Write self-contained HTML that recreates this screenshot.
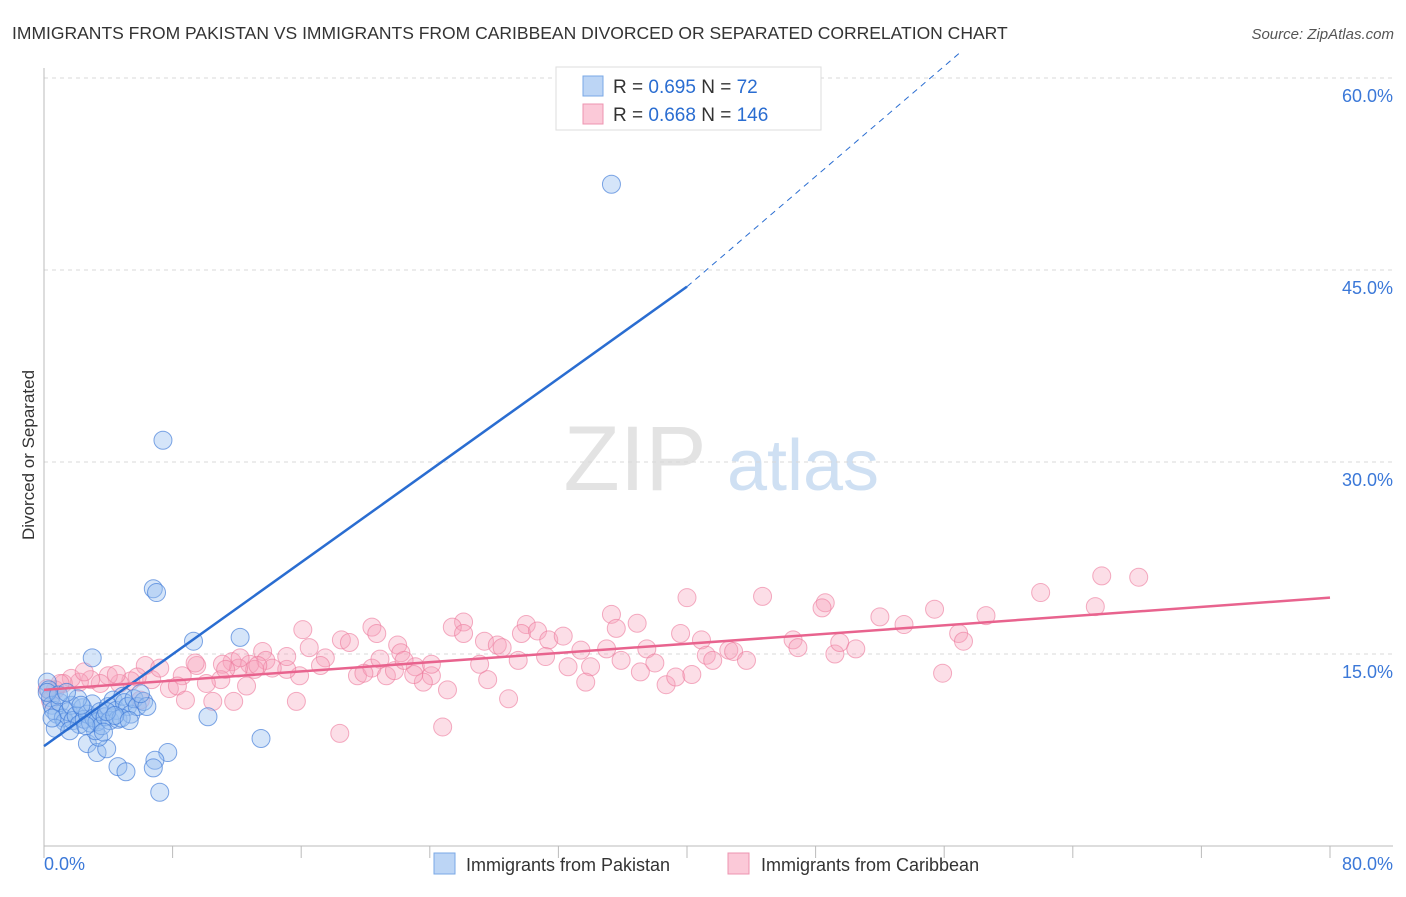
<!DOCTYPE html>
<html><head><meta charset="utf-8"><style>
body{margin:0;background:#fff;font-family:"Liberation Sans",sans-serif;}
svg text{font-family:"Liberation Sans",sans-serif;}
</style></head><body>
<svg id="chart" width="1406" height="892">
<text x="12" y="39" font-size="17.5" fill="#333">IMMIGRANTS FROM PAKISTAN VS IMMIGRANTS FROM CARIBBEAN DIVORCED OR SEPARATED CORRELATION CHART</text>
<text x="1394" y="39" font-size="15" fill="#555" font-style="italic" text-anchor="end">Source: ZipAtlas.com</text>
<g><text x="635" y="490" font-size="92" fill="#e3e3e3" font-family="Liberation Serif" text-anchor="middle">ZIP</text><text x="803" y="490" font-size="72" fill="#cfe0f3" text-anchor="middle">atlas</text></g>
<g id="grid"></g><g id="axes"></g><g id="pts"></g><g id="lines"></g>
<text transform="translate(34,455) rotate(-90)" font-size="17" fill="#333" text-anchor="middle">Divorced or Separated</text>
<g>
<rect x="556" y="67" width="265" height="63" fill="#fff" stroke="#ddd"/>
<rect x="583" y="76" width="20" height="20" fill="#bcd5f5" stroke="#7aa8e6"/>
<rect x="583" y="104" width="20" height="20" fill="#fbc9d8" stroke="#ee94b0"/>
<text x="613" y="93" font-size="19" fill="#333">R = <tspan fill="#2a6dd1">0.695</tspan>   N = <tspan fill="#2a6dd1">  72</tspan></text>
<text x="613" y="121" font-size="19" fill="#333">R = <tspan fill="#2a6dd1">0.668</tspan>   N = <tspan fill="#2a6dd1">146</tspan></text>
</g>
<g>
<rect x="434" y="853" width="21" height="21" fill="#bcd5f5" stroke="#7aa8e6"/>
<text x="466" y="871" font-size="18" fill="#333">Immigrants from Pakistan</text>
<rect x="728" y="853" width="21" height="21" fill="#fbc9d8" stroke="#ee94b0"/>
<text x="761" y="871" font-size="18" fill="#333">Immigrants from Caribbean</text>
</g>
</svg>
<script>
const yTicks=[15,30,45,60];
const yTickLabels=["15.0%","30.0%","45.0%","60.0%"];
const xTickValues=[0,8,16,24,32,40,48,56,64,72,80];
const xEndLabels=["0.0%","80.0%"];
const blueTrend=[7.8,43.7,62.0]; // y at x=0, x=40, x=57
const pinkTrend=[12.2,19.4]; // y at x=0, x=80
const blueX=[35.3,7.4,6.8,7.0,9.3,12.2,3.0,10.2,13.5,7.7,6.9,6.8,7.2,4.6,5.1,2.7,3.3,3.9,3.4,3.2,0.2,0.3,0.4,0.5,0.6,0.8,1.0,1.2,1.3,1.5,1.7,1.8,2.0,2.2,2.4,2.5,2.7,2.9,3.0,3.1,3.3,3.5,3.6,3.8,4.0,4.1,4.3,4.5,4.6,4.9,5.0,5.2,5.4,5.6,5.8,6.2,6.4,0.7,1.6,2.6,3.7,4.8,0.2,0.9,2.1,1.4,0.5,2.3,3.9,4.4,5.3,6.0];
const blueY=[51.7,31.7,20.1,19.8,16.0,16.3,14.7,10.1,8.4,7.3,6.7,6.1,4.2,6.2,5.8,8.0,7.3,7.6,8.5,9.0,12.8,12.2,11.6,11.0,10.6,10.3,11.2,10.0,9.7,10.5,11.0,9.8,10.2,9.5,10.8,9.9,10.3,9.6,11.1,10.0,9.7,10.5,9.4,10.1,10.9,9.8,11.4,10.6,9.9,11.7,11.2,10.9,10.3,11.5,10.9,11.3,10.9,9.2,9.0,9.4,8.9,10.0,12.0,11.8,11.5,12.0,10.0,11.0,10.5,10.2,9.8,11.9];
const pinkX=[65.8,68.1,62.0,65.4,55.4,44.7,40.0,48.6,48.4,52.0,58.6,53.5,56.9,57.2,39.6,40.9,41.2,41.6,42.6,42.9,43.7,46.6,46.9,49.2,49.5,50.5,55.9,35.3,35.6,36.9,30.0,26.1,25.4,26.1,27.4,28.2,28.5,29.7,30.7,31.4,32.3,33.4,31.2,32.6,34.0,33.7,35.0,35.9,37.5,38.0,37.1,38.7,39.3,40.3,29.5,27.6,27.1,28.9,24.8,25.1,24.1,23.6,23.1,24.1,23.0,22.0,22.2,20.4,20.7,18.5,19.0,16.1,16.5,17.5,17.2,15.9,15.1,15.7,18.4,19.5,20.4,20.9,21.3,21.8,22.4,19.9,13.6,13.8,14.2,15.1,12.8,13.1,11.7,12.1,11.1,11.0,10.1,9.5,8.6,7.8,8.3,6.7,6.3,7.2,5.8,5.4,4.7,4.0,3.5,2.9,2.2,1.7,1.2,0.7,0.2,0.4,6.0,8.8,10.5,12.6,13.3,11.8,9.4,4.5,2.5,1.0,11.3,12.2];
const pinkY=[21.1,21.0,19.8,18.7,18.5,19.5,19.4,19.0,18.6,17.9,18.0,17.3,16.6,16.0,16.6,16.1,14.9,14.5,15.3,15.2,14.5,16.1,15.5,15.0,15.9,15.4,13.5,18.1,17.0,17.4,17.3,17.5,17.1,16.6,16.0,15.7,15.5,16.6,16.8,16.1,16.4,15.3,14.8,14.0,14.0,12.8,15.4,14.5,15.4,14.3,13.6,12.6,13.2,13.4,14.5,13.0,14.2,11.5,9.3,12.2,13.3,12.8,14.0,14.2,13.4,15.7,15.1,17.1,16.6,16.1,15.9,16.9,15.5,14.7,14.1,13.3,13.8,11.3,8.8,13.3,13.9,14.6,13.3,13.7,14.5,13.5,15.2,14.5,13.9,14.8,14.2,13.8,14.4,13.9,14.2,13.0,12.7,14.1,13.3,12.3,12.5,13.0,14.1,13.9,13.2,12.9,12.7,13.3,12.7,13.0,12.8,13.1,12.7,12.2,12.3,11.4,11.4,11.4,11.3,12.5,14.1,11.3,14.3,13.4,13.6,12.7,13.8,14.7];

const NS="http://www.w3.org/2000/svg";
const X0=44,X1=1330,Y0=846,PPY=12.8;
function sx(v){return X0+v/80*(X1-X0);}
function sy(v){return Y0-v*PPY;}
function mk(parent,tag,attrs){const e=document.createElementNS(NS,tag);for(const k in attrs)e.setAttribute(k,attrs[k]);document.getElementById(parent).appendChild(e);return e;}
yTicks.forEach((t,i)=>{
 const g=mk('grid','line',{x1:X0,x2:1393,y1:sy(t),y2:sy(t),stroke:'#d8d8d8','stroke-dasharray':'4,4'});
 
 
 const tx=mk('grid','text',{x:1393,y:sy(t)+24,'font-size':18,fill:'#3b78d8','text-anchor':'end'});
 tx.textContent=yTickLabels[i];
 
 
});
const ax=mk('axes','line',{x1:X0,x2:X0,y1:68,y2:Y0,stroke:'#bbb'});


const bx=mk('axes','line',{x1:X0,x2:1393,y1:Y0,y2:Y0,stroke:'#bbb'});


xTickValues.forEach(v=>{
 const t=mk('axes','line',{x1:sx(v),x2:sx(v),y1:Y0,y2:Y0+12,stroke:'#bbb'});
 
 
});
const xl0=mk('axes','text',{x:44,y:870,'font-size':18,fill:'#3b78d8'});xl0.textContent=xEndLabels[0];


const xl1=mk('axes','text',{x:1393,y:870,'font-size':18,fill:'#3b78d8','text-anchor':'end'});xl1.textContent=xEndLabels[1];


pinkX.forEach((x,i)=>{
 const c=mk('pts','circle',{cx:sx(x),cy:sy(pinkY[i]),r:9,fill:'rgba(246,160,186,0.35)',stroke:'rgba(236,120,155,0.6)','stroke-width':1});
 
 
});
blueX.forEach((x,i)=>{
 const c=mk('pts','circle',{cx:sx(x),cy:sy(blueY[i]),r:9,fill:'rgba(150,190,240,0.4)',stroke:'rgba(60,120,215,0.65)','stroke-width':1});
 
 
});
const bl=mk('lines','line',{x1:sx(0),y1:sy(blueTrend[0]),x2:sx(40),y2:sy(blueTrend[1]),stroke:'#2a6dd1','stroke-width':2.5});


const bd=mk('lines','line',{x1:sx(40),y1:sy(blueTrend[1]),x2:sx(57),y2:sy(blueTrend[2]),stroke:'#2a6dd1','stroke-width':1,'stroke-dasharray':'6,5'});


const pl=mk('lines','line',{x1:sx(0),y1:sy(pinkTrend[0]),x2:sx(80),y2:sy(pinkTrend[1]),stroke:'#e8638e','stroke-width':2.5});


</script>
</body></html>
